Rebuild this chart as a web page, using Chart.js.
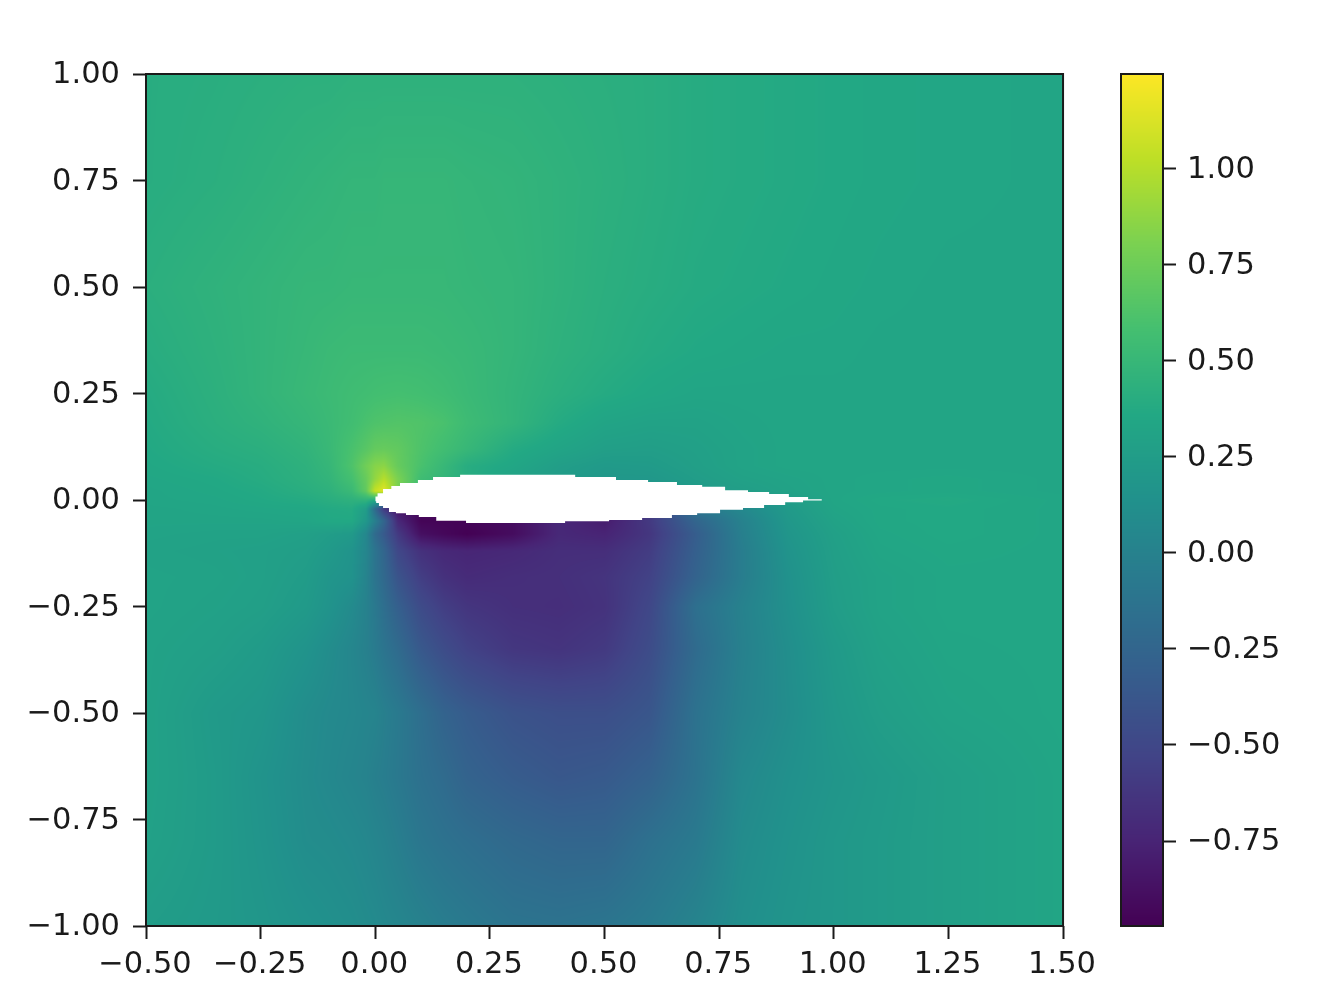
<!DOCTYPE html>
<html>

<head>
  <meta charset="utf-8">
  <style>
    html, body { margin: 0; padding: 0; background: #fff; }
    #wrap { position: relative; width: 1323px; height: 999px; }
    #fieldBox { position: absolute; left: 0; top: 0; width: 1105px; height: 999px; }
    #barBox { position: absolute; left: 1100px; top: 0; width: 223px; height: 999px; }
    canvas { filter: blur(0.6px); }
  </style>
</head>

<body>
  <div id="wrap">
    <div id="fieldBox"><canvas id="fieldChart" width="1105" height="999"></canvas></div>
    <div id="barBox"><canvas id="barChart" width="223" height="999"></canvas></div>
  </div>

  <script src="https://cdn.jsdelivr.net/npm/chart.js@4/dist/chart.umd.min.js"></script>
  <script type="text/javascript">
    // tick positions and labels
    var xTicks = [-0.5, -0.25, 0, 0.25, 0.5, 0.75, 1, 1.25, 1.5];
    var xTickLabels = ['−0.50', '−0.25', '0.00', '0.25', '0.50', '0.75', '1.00', '1.25', '1.50'];
    var yTicks = [-1, -0.75, -0.5, -0.25, 0, 0.25, 0.5, 0.75, 1];
    var yTickLabels = ['−1.00', '−0.75', '−0.50', '−0.25', '0.00', '0.25', '0.50', '0.75', '1.00'];
    var barTicks = [-0.75, -0.5, -0.25, 0, 0.25, 0.5, 0.75, 1];
    var barTickLabels = ['−0.75', '−0.50', '−0.25', '0.00', '0.25', '0.50', '0.75', '1.00'];
    var valueMin = -0.971;
    var valueMax = 1.245;

    // field, one row per meshY, one column per meshX
    var meshX = [-0.5, -0.35, -0.25, -0.15, -0.1, -0.05, -0.02, 0, 0.02, 0.05, 0.1, 0.15, 0.2, 0.3, 0.4, 0.5, 0.6, 0.7, 0.8, 0.9, 1, 1.1, 1.25, 1.5];
    var meshY = [1, 0.75, 0.5, 0.35, 0.25, 0.18, 0.12, 0.08, 0.05, 0.02, 0, -0.02, -0.05, -0.08, -0.12, -0.18, -0.25, -0.35, -0.5, -0.65, -0.8, -1];
    var meshValues = [
      [.40, .41, .42, .43, .43, .44, .44, .44, .44, .44, .44, .44, .44, .44, .43, .42, .41, .39, .38, .37, .36, .35, .34, .33],
      [.40, .42, .44, .46, .47, .48, .48, .48, .49, .49, .49, .49, .48, .47, .45, .43, .41, .39, .38, .37, .36, .35, .34, .33],
      [.42, .45, .47, .49, .49, .50, .50, .50, .50, .50, .50, .50, .49, .48, .45, .42, .40, .38, .37, .36, .35, .34, .33, .33],
      [.40, .44, .47, .50, .52, .53, .53, .53, .53, .53, .53, .52, .51, .48, .44, .41, .38, .36, .35, .34, .34, .33, .33, .33],
      [.38, .43, .47, .51, .53, .55, .56, .57, .575, .58, .57, .55, .52, .47, .42, .38, .35, .33, .33, .33, .33, .33, .33, .33],
      [.37, .42, .45, .49, .52, .56, .60, .62, .63, .64, .63, .60, .54, .47, .38, .32, .30, .30, .32, .33, .33, .33, .33, .33],
      [.36, .40, .42, .46, .51, .60, .66, .71, .72, .70, .62, .56, .50, .38, .32, .27, .26, .28, .31, .33, .33, .33, .33, .33],
      [.35, .38, .40, .44, .49, .62, .76, .84, .86, .72, .60, .50, .40, .34, .26, .22, .23, .27, .31, .33, .33, .33, .33, .33],
      [.34, .36, .39, .43, .47, .58, .72, .88, 1.0, .80, .55, .48, .40, .30, .24, .20, .20, .25, .29, .31, .33, .34, .35, .33],
      [.33, .35, .37, .41, .44, .52, .70, 1.05, 1.15, .80, .55, .48, .40, .30, .24, .18, .18, .22, .26, .30, .33, .34, .35, .33],
      [.33, .34, .36, .38, .41, .44, .46, .40, .30, 0, -.2, -.2, -.2, -.2, -.2, -.2, -.2, .05, .15, .25, .33, .36, .37, .34],
      [.32, .33, .34, .35, .37, .38, .25, -.2, -.6, -.85, -.9, -.9, -.9, -.9, -.9, -.8, -.6, -.1, .06, .22, .32, .35, .36, .34],
      [.32, .32, .32, .33, .36, .36, .20, -.02, -.25, -.72, -.95, -.95, -.95, -.90, -.72, -.80, -.60, -.25, 0, .20, .30, .35, .36, .34],
      [.31, .30, .30, .28, .25, .22, .05, -.20, -.35, -.60, -.88, -.93, -.97, -.90, -.72, -.75, -.62, -.32, -.02, .18, .28, .34, .36, .34],
      [.30, .29, .28, .26, .22, .16, .04, -.12, -.25, -.50, -.66, -.72, -.74, -.72, -.68, -.68, -.58, -.30, -.04, .16, .27, .33, .35, .34],
      [.31, .30, .28, .24, .18, .15, .02, -.12, -.22, -.40, -.57, -.66, -.70, -.68, -.67, -.64, -.54, -.27, -.04, .14, .26, .31, .34, .34],
      [.31, .29, .27, .22, .16, .08, 0, -.08, -.17, -.30, -.47, -.57, -.63, -.67, -.68, -.65, -.50, -.16, 0, .13, .25, .31, .34, .34],
      [.30, .27, .23, .16, .10, .04, -.01, -.06, -.12, -.20, -.36, -.46, -.54, -.62, -.64, -.60, -.46, -.20, -.01, .11, .22, .29, .33, .34],
      [.30, .22, .19, .10, .07, .05, .03, .02, -.02, -.07, -.17, -.27, -.33, -.41, -.44, -.44, -.38, -.14, .01, .10, .20, .26, .31, .34],
      [.30, .23, .16, .09, .06, .03, .01, -.02, -.04, -.08, -.15, -.20, -.27, -.33, -.37, -.35, -.28, -.13, .06, .13, .18, .22, .27, .33],
      [.29, .23, .17, .10, .09, .07, .05, .03, .01, -.03, -.10, -.14, -.17, -.22, -.25, -.25, -.15, -.07, .09, .15, .20, .23, .27, .33],
      [.25, .22, .19, .15, .13, .11, .09, .08, .06, .04, 0, -.04, -.07, -.12, -.13, -.11, -.06, .02, .12, .17, .20, .23, .27, .33]
    ];

    // airfoil outline, stepped like the source grid
    var upperX = [0, .005, .017, .035, .054, .093, .126, .185, .436, .525, .595, .658, .713, .763, .813, .859, .902, .944, .974];
    var upperY = [.008, .016, .026, .033, .040, .047, .054, .059, .054, .047, .042, .035, .031, .023, .019, .014, .007, .002, .002];
    var lowerX = [0, .002, .008, .017, .03, .045, .067, .095, .133, .198, .414, .51, .582, .647, .702, .752, .802, .848, .894, .933, .974];
    var lowerY = [-.003, -.007, -.014, -.019, -.028, -.031, -.035, -.040, -.049, -.054, -.050, -.047, -.042, -.035, -.031, -.023, -.019, -.012, -.005, -.001, -.001];

    var viridis = [[68, 1, 84], [72, 36, 117], [65, 68, 135], [53, 95, 141], [42, 120, 142], [33, 145, 140], [34, 168, 132], [68, 191, 112], [122, 209, 81], [189, 223, 38], [253, 231, 37]];

    var tickFont = { family: '"DejaVu Sans"', size: 30.5 };
    var inkColor = '#1a1a1a';

    function colorFor(v) {
      var t = (v - valueMin) / (valueMax - valueMin);
      t = Math.min(1, Math.max(0, t)) * (viridis.length - 1);
      var i = Math.min(viridis.length - 2, Math.floor(t));
      var f = t - i;
      return [0, 1, 2].map(function(k) {
        return viridis[i][k] + (viridis[i + 1][k] - viridis[i][k]) * f;
      });
    }

    // shades every mesh cell between its four corner values, placed through the scales
    var meshPlugin = {
      id: 'mesh',
      beforeDatasetsDraw: function(chart) {
        var area = chart.chartArea;
        var xs = chart.scales.x, ys = chart.scales.y;
        var left = Math.round(area.left), top = Math.round(area.top);
        var w = Math.round(area.right) - left, h = Math.round(area.bottom) - top;
        var img = chart.ctx.createImageData(w, h);
        for (var r = 0; r < meshY.length - 1; r++) {
          var py0 = Math.round(ys.getPixelForValue(meshY[r]));
          var py1 = Math.round(ys.getPixelForValue(meshY[r + 1]));
          for (var c = 0; c < meshX.length - 1; c++) {
            var px0 = Math.round(xs.getPixelForValue(meshX[c]));
            var px1 = Math.round(xs.getPixelForValue(meshX[c + 1]));
            var a = meshValues[r][c], b = meshValues[r][c + 1];
            var d = meshValues[r + 1][c], e = meshValues[r + 1][c + 1];
            for (var py = py0; py < py1; py++) {
              var fy = (py + 0.5 - py0) / (py1 - py0);
              for (var px = px0; px < px1; px++) {
                var fx = (px + 0.5 - px0) / (px1 - px0);
                var v = (a * (1 - fx) + b * fx) * (1 - fy) + (d * (1 - fx) + e * fx) * fy;
                var rgb = colorFor(v);
                var o = ((py - top) * w + (px - left)) * 4;
                img.data[o] = rgb[0];
                img.data[o + 1] = rgb[1];
                img.data[o + 2] = rgb[2];
                img.data[o + 3] = 255;
              }
            }
          }
        }
        chart.ctx.putImageData(img, left, top);
      }
    };

    var colorbarPlugin = {
      id: 'colorbar',
      beforeDatasetsDraw: function(chart) {
        var area = chart.chartArea;
        var ys = chart.scales.y;
        var ctx = chart.ctx;
        for (var py = Math.round(area.top); py < Math.round(area.bottom); py++) {
          var rgb = colorFor(ys.getValueForPixel(py + 0.5));
          ctx.fillStyle = 'rgb(' + rgb.join(',') + ')';
          ctx.fillRect(area.left, py, area.right - area.left, 1);
        }
      }
    };

    var framePlugin = {
      id: 'frame',
      afterDraw: function(chart) {
        var area = chart.chartArea;
        chart.ctx.save();
        chart.ctx.strokeStyle = inkColor;
        chart.ctx.lineWidth = 2;
        chart.ctx.strokeRect(area.left, area.top, area.right - area.left, area.bottom - area.top);
        chart.ctx.restore();
      }
    };

    function axisTicks(values, labels, padding, labelOffset) {
      return {
        afterBuildTicks: function(scale) {
          scale.ticks = values.map(function(v) { return { value: v }; });
        },
        ticks: {
          font: tickFont,
          color: inkColor,
          padding: padding,
          labelOffset: labelOffset,
          autoSkip: false,
          maxRotation: 0,
          callback: function(value, index) { return labels[index]; }
        },
        grid: { drawOnChartArea: false, drawTicks: true, tickLength: 13, tickWidth: 2, tickColor: inkColor },
        border: { display: false }
      };
    }

    function toPoints(xs, ys) {
      return xs.map(function(x, i) { return { x: x, y: ys[i] }; });
    }

    new Chart(document.getElementById('fieldChart'), {
      type: 'scatter',
      data: {
        datasets: [
          { data: toPoints(upperX, upperY), showLine: true, stepped: true, pointRadius: 0, borderWidth: 0, borderColor: '#fff', backgroundColor: '#fff', fill: '+1' },
          { data: toPoints(lowerX, lowerY), showLine: true, stepped: true, pointRadius: 0, borderWidth: 0, borderColor: '#fff', backgroundColor: '#fff', fill: false }
        ]
      },
      options: {
        responsive: false,
        animation: false,
        layout: { padding: { left: 0, top: 74, right: 33, bottom: 0 } },
        plugins: { legend: { display: false }, tooltip: { enabled: false } },
        scales: {
          x: Object.assign({ type: 'linear', min: -0.5, max: 1.5, afterFit: function(s) { s.height = 73; } }, axisTicks(xTicks, xTickLabels, 8, -1)),
          y: Object.assign({ type: 'linear', min: -1, max: 1, afterFit: function(s) { s.width = 146; } }, axisTicks(yTicks, yTickLabels, 13, 1.5))
        }
      },
      plugins: [meshPlugin, framePlugin]
    });

    new Chart(document.getElementById('barChart'), {
      type: 'scatter',
      data: { datasets: [] },
      options: {
        responsive: false,
        animation: false,
        layout: { padding: { left: 21, top: 74, right: 0, bottom: 73 } },
        plugins: { legend: { display: false }, tooltip: { enabled: false } },
        scales: {
          x: { type: 'linear', display: false, min: 0, max: 1 },
          y: Object.assign({ type: 'linear', position: 'right', min: valueMin, max: valueMax, afterFit: function(s) { s.width = 160; } }, axisTicks(barTicks, barTickLabels, 11, 1.5))
        }
      },
      plugins: [colorbarPlugin, framePlugin]
    });
  </script>
</body>

</html>
